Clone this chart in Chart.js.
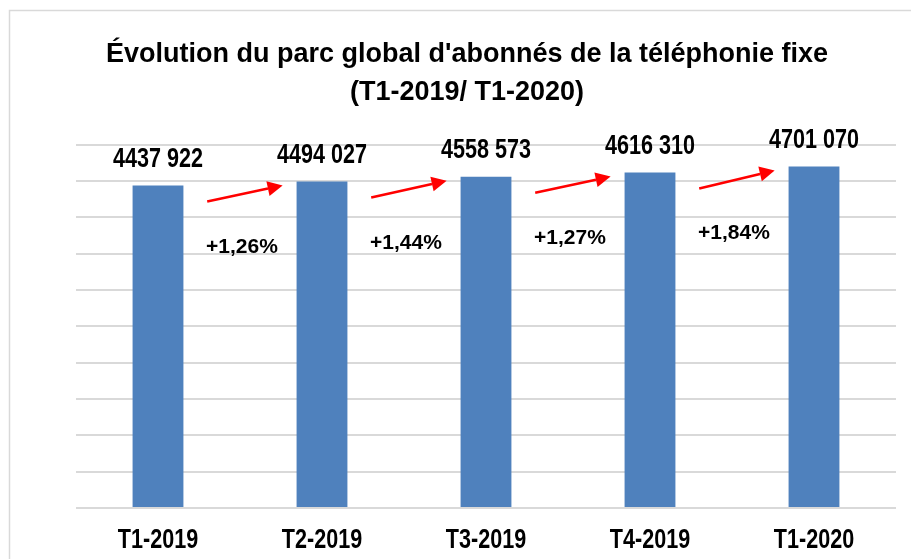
<!DOCTYPE html>
<html>
<head>
<meta charset="utf-8">
<script src="https://cdn.jsdelivr.net/npm/chart.js@4"></script>
<style>
    html, body { margin: 0; padding: 0; background: #fff; }
    .chart { width: 911px; height: 559px; }
</style>
</head>
<body>
<div class="chart"><canvas id="parc-chart" width="911" height="559"></canvas></div>
<script>
var categories = ["T1-2019", "T2-2019", "T3-2019", "T4-2019", "T1-2020"];
var abonnes = [4437922, 4494027, 4558573, 4616310, 4701070];
var valueLabels = ["4437 922", "4494 027", "4558 573", "4616 310", "4701 070"];
var growthLabels = ["+1,26%", "+1,44%", "+1,27%", "+1,84%"];
var titleLines = ["Évolution du parc global d'abonnés de la téléphonie fixe", "(T1-2019/ T1-2020)"];

var fontFamily = "'Liberation Sans', Arial, sans-serif";
// no narrow font installed -> text asking for it gets squeezed horizontally
var narrowFamily = "'Liberation Sans Narrow', 'Liberation Sans', Arial, sans-serif";
var narrowScale = 0.8;

function useNarrowText(ctx) {
    var fillText = ctx.fillText;
    var measureText = ctx.measureText;
    ctx.fillText = function(text, x, y, maxWidth) {
        if (this.font.indexOf("Narrow") < 0) {
            return fillText.apply(this, arguments);
        }
        this.save();
        this.translate(x, y);
        this.scale(narrowScale, 1);
        fillText.call(this, text, 0, 0);
        this.restore();
    };
    ctx.measureText = function(text) {
        var m = measureText.call(this, text);
        if (this.font.indexOf("Narrow") < 0) {
            return m;
        }
        return {
            width: m.width * narrowScale,
            actualBoundingBoxLeft: m.actualBoundingBoxLeft * narrowScale,
            actualBoundingBoxRight: m.actualBoundingBoxRight * narrowScale,
            actualBoundingBoxAscent: m.actualBoundingBoxAscent,
            actualBoundingBoxDescent: m.actualBoundingBoxDescent
        };
    };
}

// light grey frame around the chart (cut by the picture on the right/bottom)
var framePlugin = {
    id: "frame",
    beforeDraw: function(chart) {
        var ctx = chart.ctx;
        ctx.save();
        ctx.fillStyle = "#ffffff";
        ctx.fillRect(0, 0, chart.width, chart.height);
        ctx.strokeStyle = "#d9d9d9";
        ctx.lineWidth = 1.5;
        ctx.strokeRect(9.5, 10.5, chart.width + 20, chart.height + 20);
        ctx.restore();
    }
};

// values above bars, red arrows and growth rates between bars
var annotationsPlugin = {
    id: "annotations",
    afterDatasetsDraw: function(chart) {
        var ctx = chart.ctx;
        var x = chart.scales.x;
        var y = chart.scales.y;
        var step = x.getPixelForValue(1) - x.getPixelForValue(0);
        ctx.save();
        ctx.fillStyle = "#000";
        ctx.textAlign = "center";
        ctx.textBaseline = "middle";
        ctx.font = "bold 27px " + narrowFamily;
        abonnes.forEach(function(value, i) {
            ctx.fillText(valueLabels[i], x.getPixelForValue(i), y.getPixelForValue(value) - 26);
        });

        for (var i = 0; i < growthLabels.length; ++i) {
            var x0 = x.getPixelForValue(i) + step * 0.30;
            var y0 = y.getPixelForValue(abonnes[i]) + 16;
            var x1 = x.getPixelForValue(i + 1) - step * 0.24;
            var y1 = y.getPixelForValue(abonnes[i + 1]) + 4;
            drawArrow(ctx, x0, y0, x1, y1);

            ctx.fillStyle = "#000";
            ctx.font = "bold 21px " + fontFamily;
            var mx = (x.getPixelForValue(i) + x.getPixelForValue(i + 1)) / 2 + 2;
            var my = (y.getPixelForValue(abonnes[i]) + y.getPixelForValue(abonnes[i + 1])) / 2 + 64;
            ctx.fillText(growthLabels[i], mx, my);
        }
        ctx.restore();
    }
};

function drawArrow(ctx, x0, y0, x1, y1) {
    var angle = Math.atan2(y1 - y0, x1 - x0);
    var headLen = 15;
    var headHalf = 7.5;
    var bx = x1 - headLen * Math.cos(angle);
    var by = y1 - headLen * Math.sin(angle);
    ctx.strokeStyle = "#ff0000";
    ctx.fillStyle = "#ff0000";
    ctx.lineWidth = 2.5;
    ctx.beginPath();
    ctx.moveTo(x0, y0);
    ctx.lineTo(bx, by);
    ctx.stroke();
    ctx.beginPath();
    ctx.moveTo(x1, y1);
    ctx.lineTo(bx + headHalf * Math.sin(angle), by - headHalf * Math.cos(angle));
    ctx.lineTo(bx - headHalf * Math.sin(angle), by + headHalf * Math.cos(angle));
    ctx.closePath();
    ctx.fill();
}

//init chart
var ctx = document.getElementById("parc-chart").getContext("2d");
useNarrowText(ctx);
const barChart = new Chart(ctx, {
    type: "bar",
    data: {
        labels: categories,
        datasets: [{
            data: abonnes,
            backgroundColor: "#4f81bd",
            barPercentage: 0.31,
            categoryPercentage: 1
        }]
    },
    options: {
        responsive: false,
        animation: false,
        layout: {
            padding: { left: 38, right: 15, top: 0, bottom: 0 }
        },
        plugins: {
            legend: { display: false },
            tooltip: { enabled: false },
            title: {
                display: true,
                text: titleLines,
                color: "#000",
                font: { family: fontFamily, size: 27, weight: "bold", lineHeight: 1.42 },
                padding: { top: 35, bottom: 33 }
            }
        },
        scales: {
            x: {
                grid: { display: false, drawTicks: false },
                border: { display: false },
                ticks: {
                    color: "#000",
                    padding: 16,
                    font: { family: narrowFamily, size: 27, weight: "bold", lineHeight: 1.2 }
                },
                afterFit: function(scale) { scale.height = 51; }
            },
            y: {
                min: 0,
                max: 5000000,
                ticks: { display: false, stepSize: 500000 },
                grid: { color: "#d9d9d9", lineWidth: 2, drawTicks: false },
                border: { display: false },
                afterFit: function(scale) { scale.width = 38; }
            }
        }
    },
    plugins: [framePlugin, annotationsPlugin]
});
</script>
</body>
</html>
